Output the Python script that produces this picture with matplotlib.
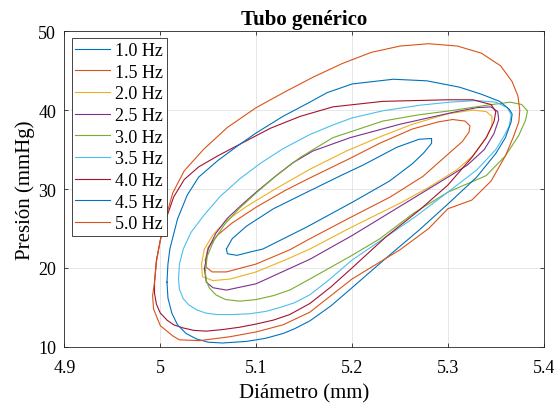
import numpy as np
import matplotlib.pyplot as plt

plt.rcParams['font.family'] = ['Liberation Serif', 'DejaVu Serif']

# Frequencies and MATLAB default line colours
labels = ['1.0 Hz', '1.5 Hz', '2.0 Hz', '2.5 Hz', '3.0 Hz',
          '3.5 Hz', '4.0 Hz', '4.5 Hz', '5.0 Hz']
colors = ['#0072BD', '#D95319', '#EDB120', '#7E2F8E', '#77AC30',
          '#4DBEEE', '#A2142F', '#0072BD', '#D95319']

# Loops: (diameter mm, pressure mmHg), upper branch then lower branch
loop_10 = [(5.069, 22.4), (5.075, 23.7), (5.090, 25.3), (5.118, 27.5), (5.153, 29.6),
           (5.19, 31.8), (5.211, 33.0), (5.247, 35.3), (5.27, 36.3), (5.283, 36.4),
           (5.283, 35.8), (5.275, 34.6), (5.263, 33.2), (5.239, 31.0), (5.2, 28.3),
           (5.153, 25.2), (5.107, 22.4), (5.093, 22.0), (5.080, 21.6), (5.070, 21.8),
           (5.069, 22.4)]
loop_15 = [(5.047, 21.0), (5.050, 22.6), (5.060, 24.2), (5.075, 25.7), (5.10, 27.7),
           (5.13, 29.8), (5.156, 31.4), (5.2, 34.0), (5.229, 35.8), (5.263, 37.6),
           (5.29, 38.5), (5.305, 38.8), (5.318, 38.6), (5.323, 38.0),
           (5.322, 37.2), (5.315, 36.0), (5.30, 34.4), (5.274, 31.6), (5.24, 29.0),
           (5.2, 26.5), (5.156, 23.7), (5.135, 22.3), (5.1, 20.5), (5.069, 19.5),
           (5.054, 19.5), (5.048, 20.1), (5.047, 21.0)]
loop_20 = [(5.043, 20.5), (5.046, 22.4), (5.055, 24.2), (5.068, 25.9), (5.09, 27.8),
           (5.12, 30.0), (5.156, 32.5), (5.194, 34.8), (5.229, 36.6), (5.263, 38.2),
           (5.299, 39.5), (5.326, 40.0), (5.34, 39.8), (5.346, 39.2),
           (5.346, 38.0), (5.340, 36.5), (5.326, 34.2), (5.309, 32.4), (5.28, 30.2),
           (5.25, 28.2), (5.2, 25.2), (5.156, 22.4), (5.132, 21.1), (5.1, 19.5),
           (5.073, 18.6), (5.055, 18.4), (5.044, 18.9), (5.043, 20.5)]
loop_25 = [(5.046, 19.9), (5.050, 22.4), (5.058, 24.4), (5.07, 26.3), (5.085, 28.0),
           (5.10, 29.6), (5.12, 31.6), (5.138, 33.3), (5.159, 34.8), (5.198, 36.5),
           (5.25, 38.2), (5.305, 39.7), (5.33, 40.3), (5.345, 40.4), (5.352, 39.8),
           (5.353, 38.8), (5.348, 37.0), (5.338, 35.0), (5.32, 33.0), (5.30, 31.5),
           (5.25, 27.8), (5.2, 24.1), (5.156, 21.1), (5.1, 18.0), (5.069, 17.2),
           (5.055, 17.5), (5.048, 18.2), (5.046, 19.9)]
loop_30 = [(5.047, 19.5), (5.049, 21.5), (5.056, 23.5), (5.067, 25.5), (5.082, 27.5),
           (5.10, 29.5), (5.12, 31.6), (5.146, 34.0), (5.18, 36.5), (5.232, 38.6),
           (5.27, 39.4), (5.302, 39.9), (5.34, 40.6), (5.365, 41.0), (5.377, 40.7),
           (5.383, 39.9), (5.381, 38.7), (5.374, 36.8), (5.36, 34.2), (5.34, 31.7),
           (5.30, 29.6), (5.265, 27.0), (5.229, 23.7), (5.2, 21.6), (5.156, 18.6),
           (5.135, 17.2), (5.118, 16.5), (5.10, 16.0), (5.083, 15.8), (5.068, 16.0),
           (5.058, 16.6), (5.051, 17.5), (5.048, 18.4), (5.047, 19.5)]
loop_35 = [(5.019, 18.6), (5.020, 20.5), (5.024, 22.4), (5.032, 24.5), (5.045, 26.6),
           (5.062, 29.0), (5.083, 31.3), (5.105, 33.3), (5.128, 35.1), (5.156, 36.9),
           (5.18, 38.1), (5.2, 39.0), (5.232, 39.9), (5.27, 40.6), (5.302, 41.0),
           (5.33, 41.2), (5.35, 41.0), (5.362, 40.3), (5.366, 39.4), (5.364, 38.0),
           (5.36, 37.0), (5.35, 35.0), (5.33, 32.4), (5.30, 29.6), (5.265, 26.4),
           (5.229, 23.4), (5.2, 21.0), (5.175, 18.4), (5.156, 16.6), (5.14, 15.6),
           (5.125, 15.0), (5.11, 14.5), (5.093, 14.2), (5.075, 14.1), (5.059, 14.1),
           (5.047, 14.3), (5.038, 14.7), (5.030, 15.3), (5.024, 16.1), (5.020, 17.3),
           (5.019, 18.6)]
loop_40 = [(4.994, 18.2), (4.996, 21.0), (5.000, 23.5), (5.006, 26.2), (5.014, 29.0),
           (5.025, 31.2), (5.04, 32.8), (5.06, 34.2), (5.085, 35.8), (5.115, 37.7),
           (5.146, 39.2), (5.18, 40.4), (5.232, 41.1), (5.30, 41.3), (5.326, 41.3),
           (5.345, 40.7), (5.350, 39.8), (5.348, 38.5), (5.34, 36.5), (5.325, 34.0),
           (5.30, 30.5), (5.27, 27.3), (5.235, 23.9), (5.2, 20.0), (5.178, 17.6),
           (5.156, 15.5), (5.135, 14.1), (5.118, 13.4), (5.10, 12.9), (5.083, 12.5),
           (5.065, 12.2), (5.048, 12.0), (5.035, 12.1), (5.024, 12.4), (5.014, 12.8),
           (5.007, 13.4), (5.000, 14.3), (4.996, 15.4), (4.994, 16.8), (4.994, 18.2)]
loop_45 = [(5.007, 18.2), (5.008, 20.5), (5.010, 22.4), (5.018, 26.2), (5.028, 29.2),
           (5.04, 31.5), (5.06, 33.6), (5.08, 35.4), (5.10, 37.1), (5.128, 39.2),
           (5.156, 41.0), (5.174, 42.2), (5.2, 43.3), (5.243, 43.9), (5.278, 43.7),
           (5.312, 42.9), (5.335, 42.0), (5.354, 41.1), (5.364, 40.1), (5.367, 39.5),
           (5.366, 38.5), (5.36, 36.5), (5.35, 34.5), (5.33, 31.5), (5.30, 28.1),
           (5.27, 24.8), (5.235, 21.2), (5.2, 17.5), (5.178, 15.2), (5.156, 13.3),
           (5.14, 12.3), (5.128, 11.7), (5.11, 11.1), (5.09, 10.7), (5.065, 10.5),
           (5.05, 10.6), (5.038, 11.0), (5.027, 11.7), (5.018, 12.8), (5.012, 14.3),
           (5.008, 16.2), (5.007, 18.2)]
loop_50 = [(4.994, 18.2), (4.996, 20.8), (5.000, 23.5), (5.006, 26.5), (5.013, 29.5),
           (5.025, 32.3), (5.045, 35.0), (5.07, 37.8), (5.10, 40.3), (5.13, 42.3),
           (5.16, 44.2), (5.19, 45.9), (5.22, 47.3), (5.25, 48.1), (5.28, 48.4),
           (5.31, 48.1), (5.335, 47.2), (5.355, 45.6), (5.367, 43.6), (5.373, 41.8),
           (5.375, 40.0), (5.374, 38.5), (5.368, 36.5), (5.36, 34.2), (5.345, 31.0),
           (5.325, 28.6), (5.30, 27.5), (5.28, 25.0), (5.25, 22.3), (5.2, 18.6),
           (5.178, 16.5), (5.156, 14.4), (5.128, 12.8), (5.10, 11.9), (5.073, 11.3),
           (5.041, 10.8), (5.020, 10.9), (5.013, 11.4), (5.000, 12.7), (4.993, 14.8),
           (4.992, 16.5), (4.994, 18.2)]

loops = [loop_10, loop_15, loop_20, loop_25, loop_30, loop_35, loop_40, loop_45, loop_50]

xticks = [4.9, 5.0, 5.1, 5.2, 5.3, 5.4]
xticklabels = ['4.9', '5', '5.1', '5.2', '5.3', '5.4']
yticks = [10, 20, 30, 40, 50]

fig = plt.figure(figsize=(5.6, 4.06), dpi=100)
ax = fig.add_axes([0.115, 0.143, 0.856, 0.778])

for pts, lab, col in zip(loops, labels, colors):
    arr = np.array(pts)
    ax.plot(arr[:, 0], arr[:, 1], color=col, linewidth=0.8, label=lab)

ax.set_xlim(4.9, 5.4)
ax.set_ylim(10, 50)
ax.set_xticks(xticks)
ax.set_xticklabels(xticklabels)
ax.set_yticks(yticks)
ax.tick_params(direction='in', length=3, width=0.6, labelsize=13,
               top=True, right=True, colors='#262626', labelcolor='black')
ax.tick_params(axis='x', pad=9)
ax.tick_params(axis='y', pad=6)
ax.grid(True, color='#e3e3e3', linewidth=0.6)
ax.set_axisbelow(True)
for s in ax.spines.values():
    s.set_color('#262626')
    s.set_linewidth(0.6)

ax.set_xlabel('Diámetro (mm)', fontsize=15, labelpad=5)
ax.set_ylabel('Presión (mmHg)', fontsize=15, labelpad=2)
ax.set_title('Tubo genérico', fontsize=15, fontweight='bold', pad=5)

leg = ax.legend(loc='upper left', fontsize=13, handlelength=1.9, labelspacing=0.26,
                borderaxespad=0.4, fancybox=False, framealpha=1, edgecolor='#262626',
                handletextpad=0.3, borderpad=0.2)
leg.get_frame().set_linewidth(0.6)

plt.savefig('out.png', dpi=100)
